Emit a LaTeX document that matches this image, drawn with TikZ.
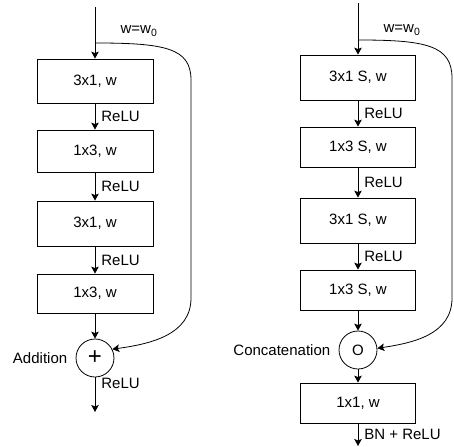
\documentclass[tikz,border=0pt]{standalone}
\usepackage{fontspec}
\setmainfont{Liberation Sans}
\usetikzlibrary{arrows.meta}
\begin{document}
\begin{tikzpicture}[x=1pt,y=-1pt,
  line width=0.8pt,
  every node/.style={font=\fontsize{15}{17}\selectfont},
  lbox/.style={draw, minimum width=116pt, inner sep=0pt},
  rbox/.style={draw, minimum width=115pt, inner sep=0pt},
  op/.style={circle, draw, minimum size=38pt, inner sep=0pt},
  arr/.style={-{Stealth[length=7pt,width=7.5pt,inset=1.5pt]}},
  lbl/.style={anchor=west, inner sep=0pt, xshift=6pt},
]
\path[use as bounding box] (0,0) rectangle (454,446);

% ---------- left column ----------
\coordinate (Ltop) at (95,7);
\coordinate (Lsplit) at (95,43);
\node[lbox, minimum height=44pt] (L1) at (95,81) {3x1, w};
\node[lbox, minimum height=42pt] (L2) at (95,151) {1x3, w};
\node[lbox, minimum height=45pt] (L3) at (95,223.5) {3x1, w};
\node[lbox, minimum height=39pt] (L4) at (95,293.5) {1x3, w};
\node[op] (Ladd) at (95,358) {\fontsize{24}{24}\selectfont +};
\coordinate (Lend) at (95,412);
\node[anchor=east, inner sep=0pt] (Laddlbl) at ([xshift=-8pt]Ladd.west) {Addition};
\node (Lw) at (139,31) {w=w\textsubscript{0}};

\draw (Ltop) -- (Lsplit);
\draw[arr] (Lsplit) -- (L1);
\draw[arr] (L1) -- node[lbl] (Lr1) {ReLU} (L2);
\draw[arr] (L2) -- node[lbl] (Lr2) {ReLU} (L3);
\draw[arr] (L3) -- node[lbl] (Lr3) {ReLU} (L4);
\draw[arr] (L4) -- (Ladd);
\draw[arr] (Ladd) -- node[lbl, pos=0.17] (Lr4) {ReLU} (Lend);
\draw[arr] (Lsplit) .. controls (165,43) and (191,48) .. (191,80) -- (191,298)
  .. controls (191,335) and (150,344) .. (Ladd.27);

% ---------- right column ----------
\coordinate (Rtop) at (358,3);
\coordinate (Rsplit) at (358,40);
\node[rbox, minimum height=45pt] (R1) at (358,77.5) {3x1 S, w};
\node[rbox, minimum height=40pt] (R2) at (358,147) {1x3 S, w};
\node[rbox, minimum height=45pt] (R3) at (358,220.5) {3x1 S, w};
\node[rbox, minimum height=40pt] (R4) at (358,290) {1x3 S, w};
\node[op] (Rcat) at (358,350) {O};
\node[rbox, minimum height=40pt] (R5) at (358,403) {1x1, w};
\coordinate (Rend) at (358,446);
\node[anchor=east, inner sep=0pt] (Rcatlbl) at ([xshift=-8pt]Rcat.west) {Concatenation};
\node (Rw) at (402,30) {w=w\textsubscript{0}};

\draw (Rtop) -- (Rsplit);
\draw[arr] (Rsplit) -- (R1);
\draw[arr] (R1) -- node[lbl] (Rr1) {ReLU} (R2);
\draw[arr] (R2) -- node[lbl] (Rr2) {ReLU} (R3);
\draw[arr] (R3) -- node[lbl] (Rr3) {ReLU} (R4);
\draw[arr] (R4) -- (Rcat);
\draw[arr] (Rcat) -- (R5);
\draw[arr] (R5) -- node[lbl] (Rbn) {BN + ReLU} (Rend);
\draw[arr] (Rsplit) .. controls (425,40) and (452,45) .. (452,78) -- (452,298)
  .. controls (452,335) and (412,343) .. (Rcat.5);
\end{tikzpicture}
\end{document}
